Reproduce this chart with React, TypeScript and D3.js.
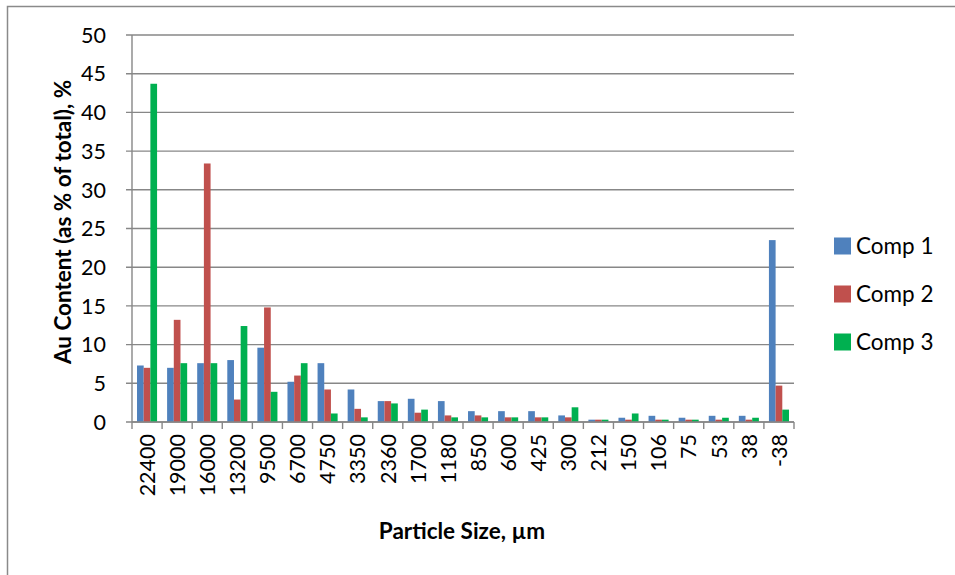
import React from "react";
import * as d3 from "d3";

const categories = ["22400","19000","16000","13200","9500","6700","4750","3350","2360","1700","1180","850","600","425","300","212","150","106","75","53","38","-38"];
const seriesNames = ["Comp 1", "Comp 2", "Comp 3"];
const comp1 = [7.3, 7.0, 7.6, 8.0, 9.6, 5.2, 7.6, 4.2, 2.7, 3.0, 2.7, 1.4, 1.4, 1.4, 0.85, 0.3, 0.55, 0.8, 0.55, 0.8, 0.8, 23.5];
const comp2 = [7.0, 13.2, 33.4, 2.9, 14.8, 6.0, 4.2, 1.7, 2.7, 1.2, 0.85, 0.85, 0.6, 0.6, 0.6, 0.3, 0.3, 0.3, 0.3, 0.3, 0.3, 4.7];
const comp3 = [43.7, 7.6, 7.6, 12.4, 3.9, 7.6, 1.1, 0.6, 2.4, 1.6, 0.6, 0.6, 0.6, 0.6, 1.9, 0.3, 1.1, 0.3, 0.3, 0.55, 0.55, 1.6];
const yTicks = [0, 5, 10, 15, 20, 25, 30, 35, 40, 45, 50];
const colors = ["#4F81BD", "#C0504D", "#00B050"];

export default function App() {
  const W = 955, H = 575;
  const left = 132, right = 794, top = 35, bottom = 422;
  const series = [comp1, comp2, comp3];
  const x = d3.scaleBand().domain(categories).range([left, right]).paddingInner(0).paddingOuter(0);
  const step = x.bandwidth();
  const inner = d3.scaleBand().domain(seriesNames).range([0, step]).paddingInner(0).paddingOuter(0.75);
  const y = d3.scaleLinear().domain([0, 50]).range([bottom, top]);
  const font = "Lato, 'Open Sans', sans-serif";
  const grid = "#878787";
  const boundaries = d3.range(categories.length + 1).map(i => left + i * step);

  return (
    <svg width={W} height={H} style={{ position: "absolute", left: 0, top: 0 }} fontFamily={font}>
      <rect x={0} y={0} width={W} height={H} fill="#fff" />
      <rect x={7.5} y={6.5} width={W + 20} height={H + 20} fill="none" stroke="#8a8a8a" strokeWidth={1.5} />
      {yTicks.map(t => (
        <g key={t}>
          <line x1={left - 6} x2={right} y1={y(t)} y2={y(t)} stroke={grid} strokeWidth={1.4} />
          <text x={106} y={y(t)} dy="0.36em" textAnchor="end" fontSize={21.5} fill="#000">{t}</text>
        </g>
      ))}
      <line x1={left} x2={left} y1={top} y2={bottom} stroke={grid} strokeWidth={1.4} />
      {series.map((vals, si) =>
        vals.map((v, ci) => (
          <rect key={si + "-" + ci}
            x={(x(categories[ci]) as number) + (inner(seriesNames[si]) as number)}
            width={inner.bandwidth()}
            y={y(v)} height={bottom - y(v)} fill={colors[si]} />
        ))
      )}
      <line x1={left} x2={right} y1={bottom} y2={bottom} stroke={grid} strokeWidth={1.4} />
      {boundaries.map((bx, i) => (
        <line key={i} x1={bx} x2={bx} y1={bottom} y2={bottom + 7} stroke={grid} strokeWidth={1.4} />
      ))}
      {categories.map(c => {
        const cx = (x(c) as number) + step / 2;
        return (
          <text key={c} transform={`translate(${cx},434) rotate(-90)`} textAnchor="end" dy="0.36em" fontSize={21.5} fill="#000">{c}</text>
        );
      })}
      <text transform={`translate(63,222) rotate(-90)`} textAnchor="middle" dy="0.36em" fontSize={22.5} fontWeight="bold" fill="#000">Au Content (as % of total), %</text>
      <text x={462} y={539} textAnchor="middle" fontSize={22.5} fontWeight="bold" fill="#000">Particle Size, µm</text>
      {seriesNames.map((n, i) => (
        <g key={n}>
          <rect x={834} y={246 + i * 48 - 8.5} width={17} height={17} fill={colors[i]} />
          <text x={856} y={246 + i * 48} dy="0.36em" fontSize={22.5} fill="#000">{n}</text>
        </g>
      ))}
    </svg>
  );
}
